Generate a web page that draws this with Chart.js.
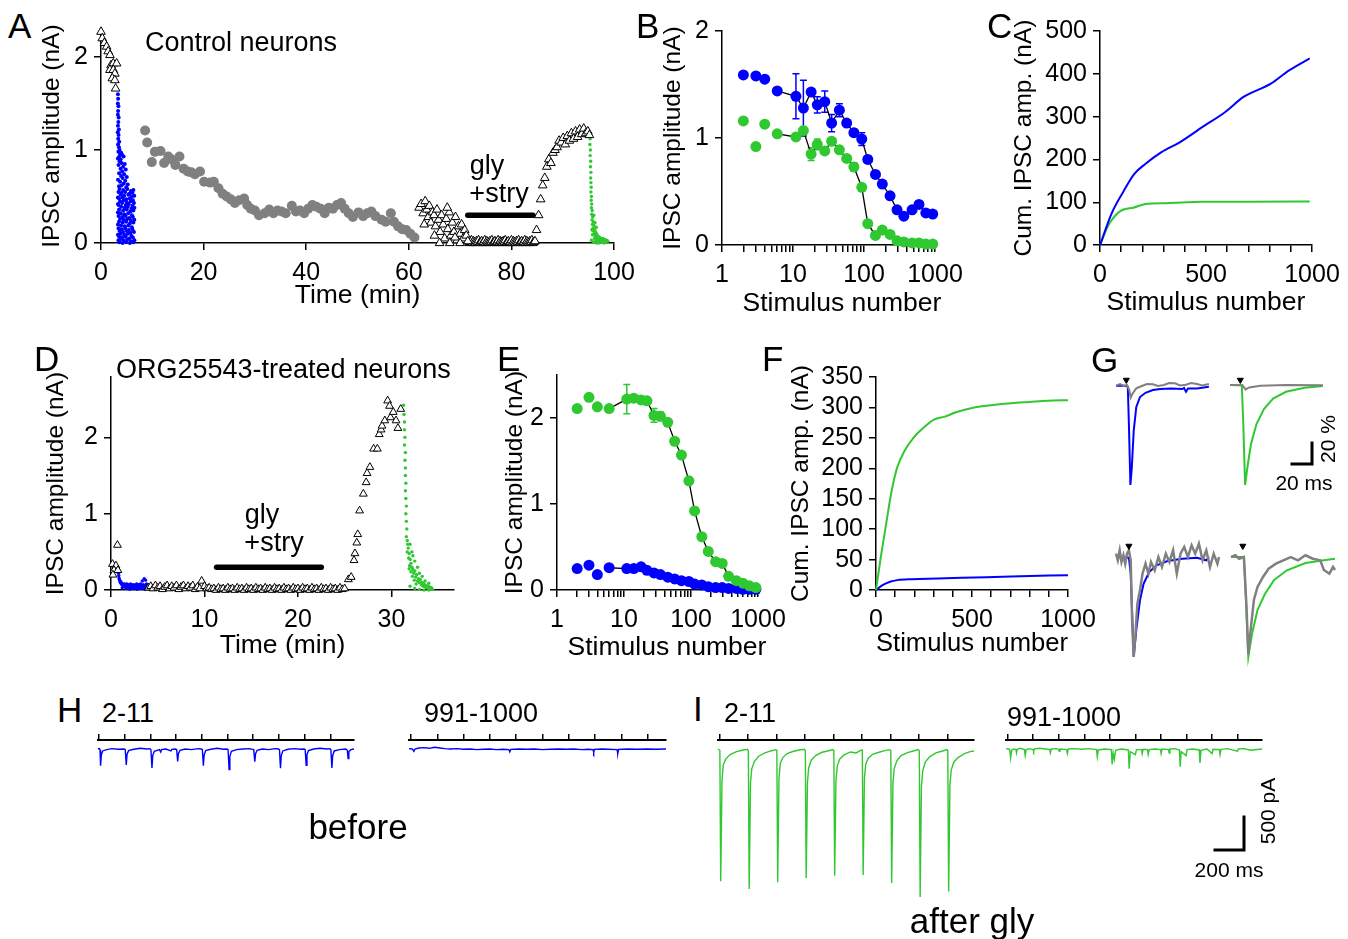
<!DOCTYPE html>
<html>
<head>
<meta charset="utf-8">
<script src="https://cdn.jsdelivr.net/npm/chart.js@4.4.1/dist/chart.umd.min.js"></script>
<style>
  html, body { margin: 0; padding: 0; background: #fff; }
  body { width: 1348px; height: 939px; position: relative; overflow: hidden; font-family: Arial, "Liberation Sans", sans-serif; }
  canvas { position: absolute; }
  .t { position: absolute; white-space: nowrap; color: #000; line-height: 1; }
</style>
</head>
<body>
<script>
// ---------- data ----------
const BLUE = '#0000ff', GREEN = '#30c830', GRAY = '#808080';

// A: control neurons, time course (min, nA)
const aTriStart = [[0.0,2.27],[0.25,2.2],[0.65,2.15],[1.1,2.11],[1.4,2.06],[1.75,2.02],[1.95,1.91],[2.4,1.93],[3.05,1.93],[1.75,1.86],[2.4,1.86],[2.7,1.82],[2.2,1.77],[2.7,1.75],[2.85,1.66]];
const aBlue = [[3.30,1.60],[3.34,1.55],[3.28,1.50],[3.40,1.47],[3.33,1.42],[3.29,1.38],[3.44,1.35],[3.38,1.30],[3.31,1.26],[3.48,1.22],[3.27,1.19],[3.43,1.16],[3.36,1.12],[3.55,1.09],[3.32,1.06],[3.50,1.03],[3.62,1.00],[3.39,0.98],[3.71,0.96],[3.56,0.93],[3.29,0.91],[3.83,0.90],
  [3.93,0.97],[4.12,0.95],[4.41,0.93],[3.61,0.88],[4.02,0.86],[4.63,0.85],[3.42,0.84],[4.31,0.82],[3.81,0.80],[4.82,0.79],[4.13,0.77],[3.52,0.75],[4.52,0.74],[3.91,0.72],[5.02,0.71],[4.22,0.70],[3.32,0.68],[4.72,0.67],[3.72,0.66],[4.43,0.64],[4.01,0.62],[5.21,0.63],[3.51,0.61],[4.92,0.60],
  [3.62,0.58],[4.33,0.57],[5.12,0.58],[5.83,0.56],[6.31,0.57],[3.41,0.55],[4.04,0.54],[4.71,0.55],[5.52,0.53],[6.12,0.54],
  [3.82,0.52],[4.51,0.51],[5.33,0.52],[6.03,0.50],[6.48,0.51],[3.30,0.49],[3.52,0.48],[4.21,0.49],[4.93,0.47],[5.62,0.48],[6.22,0.46],
  [3.71,0.45],[4.42,0.46],[5.04,0.44],[5.81,0.45],[6.42,0.43],[3.31,0.42],[3.43,0.41],[4.11,0.43],[4.83,0.41],[5.42,0.42],[6.13,0.40],
  [3.92,0.39],[4.61,0.38],[5.23,0.39],[5.92,0.37],[6.51,0.38],[3.53,0.36],[4.32,0.35],[5.01,0.36],[5.72,0.34],[6.32,0.35],[3.29,0.33],
  [3.81,0.32],[4.52,0.31],[5.31,0.32],[6.02,0.30],[3.42,0.29],[4.13,0.28],[4.81,0.29],[5.53,0.27],[6.21,0.28],
  [3.72,0.26],[4.43,0.25],[5.12,0.26],[5.83,0.24],[6.49,0.25],[3.51,0.23],[4.22,0.22],[4.91,0.23],[5.62,0.21],[6.32,0.22],[3.31,0.20],
  [3.91,0.19],[4.62,0.18],[5.33,0.19],[6.01,0.17],[3.41,0.16],[4.03,0.15],[4.72,0.16],[5.42,0.14],[6.12,0.15],
  [3.62,0.13],[4.31,0.12],[5.02,0.13],[5.71,0.11],[6.42,0.12],[3.81,0.10],[3.29,0.09],[4.52,0.09],[5.21,0.10],[5.92,0.08],
  [3.52,0.07],[4.12,0.06],[4.81,0.07],[5.51,0.05],[6.22,0.06],[3.71,0.04],[3.40,0.03],[4.41,0.03],[5.11,0.04],[5.82,0.02],[6.52,0.03],
  [3.61,0.01],[4.21,0.00],[4.92,0.01],[5.63,0.00],[6.31,0.01]];
const aGray = [[8.6,1.21],[9.0,1.08],[9.9,0.87],[10.5,0.98],[11.6,0.99],[12.3,0.86],[13.1,0.93],[13.7,0.90],[14.5,0.84],[15.3,0.93],[16.1,0.80],[16.9,0.77],[17.6,0.76],[18.3,0.74],[19.3,0.77],[20.1,0.66],[21.3,0.65],[22.0,0.66],[22.9,0.59],[23.7,0.53],[24.5,0.50],[25.3,0.47],[26.1,0.43],[26.9,0.46],[27.9,0.48],[28.5,0.41],[29.2,0.37],[30.0,0.35],[30.8,0.30],[31.9,0.32],[32.8,0.36],[33.6,0.32],[34.4,0.35],[35.2,0.34],[36.0,0.32],[37.2,0.40],[38.0,0.34],[38.8,0.35],[39.6,0.32],[40.4,0.37],[41.2,0.41],[42.0,0.39],[42.8,0.37],[43.6,0.32],[44.4,0.38],[45.2,0.37],[46.0,0.41],[46.8,0.43],[47.5,0.37],[48.3,0.32],[49.1,0.28],[50.2,0.33],[51.1,0.29],[51.9,0.32],[52.7,0.34],[53.5,0.29],[54.7,0.25],[55.5,0.23],[56.5,0.32],[57.1,0.23],[57.9,0.18],[58.7,0.15],[59.5,0.14],[60.3,0.10],[61.1,0.06]];
const aTriMid = [[62.0,0.38],[62.4,0.42],[62.8,0.32],[63.2,0.45],[63.5,0.36],[63.8,0.28],[64.0,0.4],[64.3,0.22],[64.6,0.33],[64.9,0.3],[65.2,0.18],[65.5,0.36],[65.8,0.25],[66.1,0.12],[66.4,0.3],[66.7,0.2],[67.0,0.05],[67.3,0.26],[67.6,0.15],[67.9,0.33],[68.2,0.08],[68.5,0.22],[68.8,0.12],[69.1,0.28],[69.4,0.03],[69.7,0.18],[70.0,0.1],[70.3,0.2],[70.6,0.05],[70.9,0.14],[71.2,0.08],[71.5,0.02],[66.0,0.0],[68.0,0.0],[70.0,0.0],[63.0,0.2],[65.0,0.08],[67.5,0.38],[69.0,0.06]];
const aTriGly = [[71.6,0.02],[71.8,0.0],[72.0,0.01],[72.2,0.03],[72.4,0.0],[72.6,0.02],[72.8,0.01],[73.0,0.0],[73.2,0.02],[73.4,0.01],[73.6,0.03],[73.8,0.0],[74.0,0.01],[74.2,0.02],[74.4,0.0],[74.6,0.01],[74.8,0.03],[75.0,0.0],[75.2,0.02],[75.4,0.01],[75.6,0.0],[75.8,0.02],[76.0,0.01],[76.2,0.03],[76.4,0.0],[76.6,0.01],[76.8,0.02],[77.0,0.0],[77.2,0.01],[77.4,0.03],[77.6,0.0],[77.8,0.02],[78.0,0.01],[78.2,0.0],[78.4,0.02],[78.6,0.01],[78.8,0.03],[79.0,0.0],[79.2,0.01],[79.4,0.02],[79.6,0.0],[79.8,0.01],[80.0,0.03],[80.2,0.0],[80.4,0.02],[80.6,0.01],[80.8,0.0],[81.0,0.02],[81.2,0.01],[81.4,0.03],[81.6,0.0],[81.8,0.01],[82.0,0.02],[82.2,0.0],[82.4,0.01],[82.6,0.03],[82.8,0.0],[83.0,0.02],[83.2,0.01],[83.4,0.0],[83.6,0.02],[83.8,0.01],[84.0,0.03],[84.2,0.0],[84.4,0.01],[84.6,0.02]];
const aTriWash = [[84.9,0.14],[85.3,0.3],[85.7,0.47],[86.1,0.62],[86.5,0.7],[86.9,0.82],[87.3,0.9],[87.7,0.86],[88.1,0.97],[88.5,1.0],[88.9,1.03],[89.3,1.1],[89.7,1.08],[90.1,1.13],[90.5,1.06],[90.9,1.15],[91.3,1.1],[91.7,1.18],[92.1,1.12],[92.5,1.2],[92.9,1.14],[93.3,1.22],[93.7,1.17],[94.1,1.23],[94.5,1.18],[94.9,1.2],[95.2,1.16]];
const aGreen = [[95.3,1.18],[95.35,1.12],[95.3,1.06],[95.4,1.0],[95.35,0.94],[95.45,0.88],[95.4,0.82],[95.5,0.76],[95.45,0.7],[95.5,0.65],[95.55,0.6],[95.5,0.55],[95.6,0.5],[95.55,0.46],[95.65,0.42],[95.6,0.38],[95.75,0.35],[95.65,0.31],[95.85,0.28],[95.7,0.25],[95.95,0.23],[95.8,0.2],[96.1,0.19],[95.9,0.16],[96.25,0.15],[96.0,0.13],[96.4,0.12],[96.15,0.1],[96.6,0.1],[96.3,0.08],[96.8,0.08],[96.5,0.06],[97.0,0.07],[96.7,0.05],[97.2,0.06],[96.9,0.04],[97.4,0.05],[97.1,0.03],[97.6,0.04],[97.3,0.02],[97.8,0.05],[97.5,0.02],[98.0,0.03],[97.7,0.01],[98.2,0.04],[97.9,0.01],[98.4,0.02],[98.1,0.0],[98.6,0.03],[98.3,0.01],[98.8,0.02],[95.6,0.03],[95.8,0.09],[96.0,0.01],[96.2,0.05],[96.4,0.02],[96.6,0.0],[96.8,0.02],[97.0,0.0],[95.7,0.14],[96.05,0.3],[96.3,0.22],[96.55,0.17]];
const aGlyBar = [71.5, 84.2], aGlyLevel = 0.3;
const aTicksX = [0, 20, 40, 60, 80, 100], aTicksY = [0, 1, 2];

// B / E: binned stimulus numbers and mean amplitudes (nA)
const stimBins = [2,3,4,6,11,14,18,22,28,35,45,57,72,93,113,145,181,233,292,364,476,595,743,929];
const bBlue  = [1.59,1.58,1.55,1.44,1.39,1.28,1.43,1.31,1.34,1.14,1.26,1.14,1.05,0.99,0.80,0.66,0.57,0.46,0.33,0.27,0.33,0.38,0.30,0.29];
const bBlueErr = [0.02,0.02,0.02,0.03,0.21,0.26,0.03,0.075,0.1,0.08,0.06,0.03,0.03,0.06,0.03,0.02,0.02,0.02,0.02,0.02,0.02,0.02,0.02,0.02];
const bGreen = [1.16,0.92,1.13,1.04,1.01,1.07,0.85,0.94,0.88,0.97,0.89,0.81,0.73,0.54,0.20,0.09,0.14,0.10,0.04,0.03,0.02,0.02,0.01,0.01];
const bGreenErr = [0.02,0.02,0.02,0.02,0.02,0.02,0.06,0.05,0.03,0.03,0.03,0.03,0.04,0.03,0.03,0.02,0.02,0.02,0.01,0.01,0.01,0.01,0.01,0.01];
const eBlue  = [0.25,0.29,0.18,0.26,0.25,0.25,0.27,0.23,0.20,0.18,0.15,0.13,0.11,0.10,0.07,0.06,0.04,0.03,0.03,0.02,0.02,0.01,0.01,0.01];
const eGreen = [2.11,2.24,2.13,2.11,2.22,2.23,2.21,2.20,2.03,2.02,1.95,1.73,1.57,1.27,0.92,0.62,0.45,0.33,0.31,0.16,0.11,0.08,0.05,0.03];
const eGreenErr = [0.03,0.03,0.03,0.03,0.17,0.04,0.03,0.03,0.08,0.05,0.03,0.03,0.03,0.03,0.03,0.02,0.02,0.02,0.02,0.01,0.01,0.01,0.01,0.01];
const logTicks = [1,2,3,4,5,6,7,8,9,10,20,30,40,50,60,70,80,90,100,200,300,400,500,600,700,800,900,1000];
const logLabels = [1, 10, 100, 1000];

// C / F: cumulative amplitude (stimulus number, nA)
const cBlue  = [[0,0],[54,73],[108,123],[161,166],[215,190],[290,217],[376,240],[484,276],[591,311],[677,346],[806,377],[892,408],[989,436]];
const cGreen = [[0,0],[43,49],[97,80],[161,88],[215,96],[312,98],[484,101],[699,101.5],[989,102]];
const fGreen = [[0,0],[25,54],[53,109],[82,164],[111,202],[149,229],[197,251],[245,266],[302,280],[359,285],[417,292],[512,300],[608,304],[704,307],[799,309],[895,311],[1000,312]];
const fBlue  = [[0,0],[34,8],[73,13.6],[111,16.4],[187,18],[321,19],[512,20.7],[704,22.4],[1000,24.5]];
const cumTicksX = [0,100,200,300,400,500,600,700,800,900,1000], cumLabelsX = [0, 500, 1000];
const cTicksY = [0,100,200,300,400,500];
const fTicksY = [0,50,100,150,200,250,300,350];

// D: ORG25543-treated neurons (min, nA)
const dTriStart = [[0.16,0.34],[0.53,0.32],[0.32,0.26],[0.74,0.26],[0.21,0.2],[0.69,0.59]];
const dBlue = [[0.80,0.22],[0.83,0.19],[0.86,0.16],[0.90,0.14],[0.95,0.12],[1.00,0.10],[1.05,0.11],[1.10,0.08],[1.15,0.09],[1.20,0.07],[1.25,0.08],[1.30,0.06],[1.35,0.07],[1.40,0.05],[1.45,0.08],[1.50,0.06],[1.55,0.04],[1.60,0.07],[1.65,0.05],[1.70,0.08],[1.75,0.03],[1.80,0.06],[1.85,0.04],[1.90,0.07],[1.95,0.05],[2.00,0.03],[2.05,0.06],[2.10,0.08],[2.15,0.04],[2.20,0.06],[2.25,0.03],[2.30,0.05],[2.35,0.07],[2.40,0.04],[2.45,0.06],[2.50,0.03],[2.55,0.05],[2.60,0.07],[2.65,0.04],[2.70,0.06],[2.75,0.08],[2.80,0.03],[2.85,0.05],[2.90,0.07],[2.95,0.04],[3.00,0.06],[3.05,0.03],[3.10,0.05],[3.15,0.08],[3.20,0.04],[3.25,0.06],[3.30,0.03],[3.35,0.12],[3.40,0.05],[3.45,0.07],[3.50,0.04],[3.55,0.15],[3.60,0.06],[3.65,0.03],[3.70,0.13],[3.75,0.05],[3.80,0.08],[3.85,0.04],[3.90,0.06],[3.95,0.03],[1.20,0.03],[1.60,0.02],[2.00,0.01],[2.40,0.02],[2.80,0.01],[3.20,0.02],[3.60,0.01]];
const dTriGly = [[4.0,0.03],[4.25,0.05],[4.5,0.02],[4.75,0.06],[5.0,0.03],[5.25,0.05],[5.5,0.01],[5.75,0.04],[6.0,0.06],[6.25,0.02],[6.5,0.05],[6.75,0.03],[7.0,0.06],[7.25,0.01],[7.5,0.04],[7.75,0.06],[8.0,0.02],[8.25,0.05],[8.5,0.03],[8.75,0.06],[9.0,0.01],[9.25,0.04],[9.5,0.02],[9.7,0.12],[10.0,0.05],[10.25,0.02],[10.5,0.03],[10.75,0.01],[11.0,0.02],[11.25,0.0],[11.5,0.03],[11.75,0.01],[12.0,0.02],[12.25,0.0],[12.5,0.03],[12.75,0.01],[13.0,0.02],[13.25,0.0],[13.5,0.03],[13.75,0.01],[14.0,0.02],[14.25,0.0],[14.5,0.03],[14.75,0.01],[15.0,0.02],[15.25,0.0],[15.5,0.03],[15.75,0.01],[16.0,0.02],[16.25,0.0],[16.5,0.03],[16.75,0.01],[17.0,0.02],[17.25,0.0],[17.5,0.03],[17.75,0.01],[18.0,0.02],[18.25,0.0],[18.5,0.03],[18.75,0.01],[19.0,0.02],[19.25,0.0],[19.5,0.03],[19.75,0.01],[20.0,0.02],[20.25,0.0],[20.5,0.03],[20.75,0.01],[21.0,0.02],[21.25,0.0],[21.5,0.03],[21.75,0.01],[22.0,0.02],[22.25,0.0],[22.5,0.03],[22.75,0.01],[23.0,0.02],[23.25,0.0],[23.5,0.03],[23.75,0.01],[24.0,0.02],[24.25,0.0],[24.5,0.03],[24.75,0.01],[25.0,0.02]];
const dTriWash = [[25.4,0.14],[25.7,0.17],[26.0,0.39],[26.1,0.48],[26.3,0.62],[26.4,0.73],[26.6,1.04],[27.0,1.26],[27.3,1.41],[27.4,1.53],[27.7,1.61],[28.1,1.85],[28.5,1.85],[28.7,2.04],[28.9,2.1],[29.0,2.15],[29.3,2.22],[29.6,2.48],[29.8,2.41],[29.9,2.26],[30.2,2.33],[30.5,2.22],[30.7,2.12],[31.0,2.37]];
const dGreen = [[31.3,2.42],[31.35,2.3],[31.4,2.2],[31.4,2.1],[31.45,2.0],[31.4,1.9],[31.5,1.8],[31.45,1.7],[31.5,1.6],[31.5,1.5],[31.55,1.4],[31.5,1.3],[31.55,1.2],[31.6,1.1],[31.55,1.0],[31.6,0.9],[31.65,0.8],[31.6,0.7],[31.7,0.65],[31.75,0.6],[31.8,0.55],[31.7,0.5],[31.9,0.48],[31.85,0.42],[32.0,0.4],[32.1,0.35],[31.95,0.32],[32.2,0.3],[32.3,0.27],[32.1,0.24],[32.4,0.22],[32.5,0.25],[32.25,0.18],[32.6,0.17],[32.7,0.2],[32.45,0.13],[32.8,0.12],[32.9,0.15],[33.0,0.1],[33.1,0.14],[32.65,0.08],[33.2,0.07],[33.3,0.1],[33.4,0.05],[33.5,0.08],[33.6,0.04],[33.7,0.06],[33.8,0.03],[33.9,0.05],[34.0,0.02],[34.1,0.04],[34.2,0.02],[34.3,0.03],[34.4,0.01],[32.0,0.6],[32.2,0.5],[31.9,0.28],[32.3,0.45],[32.5,0.38],[32.8,0.3],[33.0,0.22],[33.3,0.18],[33.6,0.12],[34.0,0.09],[32.0,0.05],[32.5,0.02],[33.0,0.01],[33.5,0.0],[34.0,0.0]];
const dGlyBar = [11.3, 22.5], dGlyLevel = 0.3;
const dTicksX = [0, 10, 20, 30], dTicksY = [0, 1, 2];

// G: normalised IPSC traces (ms, % of peak)
const gTLBlue = [[0,-0.7],[9.2,-0.7],[11.8,-1.7],[12.9,-39],[14.4,-100],[15.8,-83],[17.7,-46],[20.3,-22],[24,-12],[29.5,-7.8],[36.9,-5],[44.2,-4],[55.3,-3.4],[66.3,-4],[68,-3],[70,-6.8],[72,-3.4],[81,-3.4],[92.9,-1.7]];
const gTLGray = [[0,-0.7],[4,1],[8,-1],[11,0],[13.3,-5],[14.7,-12.5],[16.6,-8.5],[20.3,-3.4],[25.8,-1],[31,1],[36.9,0.7],[42,-1],[47.9,0],[53,2],[59,1.7],[64,-0.5],[70,0.3],[75,2],[81,1],[86,-0.5],[92.9,1]];
const gTRGreen = [[0,0],[11.8,-0.3],[13.3,-39],[15.1,-100],[17.3,-83],[21,-59],[26.5,-39],[33.9,-24],[43.1,-13.6],[56,-6.8],[74.5,-2.7],[92.9,-1]];
const gTRGray = [[0,0],[12.5,-0.3],[15.5,-4.4],[19.2,-2.4],[30.2,-0.7],[56,0],[92.9,-0.3]];
const gBLGray = [[0,3.3],[1.8,-3.3],[3.7,6.7],[5.5,-5],[7.4,1.7],[9.2,-6.7],[11,3.3],[12.9,6.7],[14.7,-3.3],[16.2,-66.7],[17.7,-100],[19.5,-76.7],[21.4,-46.7],[24,-33],[26.5,-16.7],[29.5,-6.7],[32.4,-16.7],[35,-5],[38.7,-13.3],[42.4,0],[46,-10],[49.8,3.3],[53.4,-5],[57.1,6.7],[60.8,-16.7],[64.5,3.3],[68.2,10],[71.9,0],[75.6,11.7],[79.2,3.3],[82.9,13.3],[86.6,-3.3],[90.3,6.7],[94,-10],[97.7,3.3],[101.4,-6.7],[103,0]];
const gBLBlue = [[0,0],[12.9,-0.7],[14.7,-16.7],[17.7,-100],[20.3,-73],[24,-43],[27.6,-26.7],[33.2,-15],[40.5,-8.3],[51.6,-4],[66.3,-1.7],[81,-0.7],[90.3,-3.3],[92.9,0]];
const gBRGreen = [[0,0],[12.9,0],[14.7,-37],[17.3,-100],[21,-77],[26.5,-53],[33.9,-37],[43.1,-23],[56,-13.3],[74.5,-6],[92.9,-3.3],[104,-1.7]];
const gBRGray = [[0,0],[4.4,1.7],[8.1,-1.7],[12.9,0],[15.5,-50],[17.3,-97],[19.2,-77],[22.9,-43],[26.5,-30],[32,-20],[37.6,-11.7],[45,-6.7],[52.3,-3.3],[59.7,0],[67,-3.3],[74.5,1.7],[81.8,-1.7],[89.2,-3.3],[92.9,-13],[98.4,-16.7],[102,-10],[104,-13]];
const gStim = [[10.3,5],[10.3,5],[12.9,11],[11.8,11]];   // TL, TR, BL, BR marker (ms, %)
const gScale = [20, 20];   // ms, %

// H / I: raw traces (ms, pA)
const stimTimes10 = [0,200,400,600,800,1000,1200,1400,1600,1800];
const stimTimes9 = [0,200,400,600,800,1000,1200,1400,1600];
const hLeft = [[-8,0],[4,5],[8,-20],[12,-252],[18,-90],[28,-30],[60,-10],[100,5],[150,-5],[196,0],
  [204,-10],[212,-242],[218,-80],[230,-25],[270,-5],[320,10],[370,0],[396,5],
  [404,-15],[412,-288],[418,-100],[430,-35],[470,-10],[480,-45],[486,-10],[520,0],[560,-30],[566,-5],[596,0],
  [604,-10],[612,-187],[618,-70],[630,-20],[670,0],[720,-10],[770,5],[796,0],
  [804,-10],[812,-252],[818,-90],[830,-25],[870,-5],[920,10],[970,-5],[996,0],
  [1004,-10],[1012,-313],[1018,-110],[1030,-35],[1070,-10],[1120,0],[1170,5],[1196,-5],
  [1204,-10],[1212,-192],[1218,-70],[1230,-20],[1270,0],[1320,-10],[1370,5],[1396,0],
  [1404,-10],[1412,-293],[1418,-100],[1430,-30],[1470,-5],[1520,5],[1570,-5],[1596,0],
  [1604,-10],[1612,-247],[1618,-85],[1630,-25],[1670,0],[1720,10],[1770,0],[1796,5],
  [1804,-10],[1812,-288],[1818,-100],[1830,-30],[1870,-10],[1920,0],[1932,-20],[1938,-146],[1944,-40],[1960,-10],[1984,0]];
const hRight = [[-15,5],[10,0],[22,-35],[30,0],[60,15],[100,20],[140,10],[180,25],[220,15],[260,5],[300,0],[350,5],[400,-5],[450,0],[500,-10],[550,-5],[600,0],[650,-10],[700,-5],[745,-10],[752,-45],[760,-5],[820,0],[880,-5],[940,0],[1000,-10],[1060,-5],[1120,0],[1180,-5],[1240,0],[1300,-10],[1350,-5],[1385,-10],[1390,-50],[1396,-5],[1450,0],[1500,-5],[1568,-10],[1573,-70],[1580,-5],[1650,0],[1720,-5],[1800,0],[1860,-5],[1940,0]];
const iLeft = [[-10,0],[3,-20],[9,-2005],[18,-470],[27,-240],[45,-150],[75,-85],[120,-40],[160,-20],[196,-5],
  [203,-25],[209,-2121],[218,-520],[227,-300],[245,-190],[275,-110],[320,-60],[360,-30],[396,-10],
  [403,-20],[409,-2020],[418,-450],[427,-220],[445,-130],[475,-70],[520,-35],[560,-15],[596,-5],
  [603,-30],[609,-1954],[618,-500],[627,-280],[645,-170],[675,-100],[720,-50],[760,-30],[796,-10],
  [803,-25],[809,-1919],[818,-480],[827,-260],[845,-150],[875,-90],[920,-45],[960,-60],[996,-15],
  [1003,-20],[1009,-1909],[1018,-430],[1027,-230],[1045,-140],[1075,-80],[1120,-50],[1160,-25],[1196,-10],
  [1203,-25],[1209,-2030],[1218,-520],[1227,-300],[1245,-180],[1275,-100],[1320,-55],[1360,-30],[1396,-10],
  [1403,-30],[1409,-2242],[1418,-560],[1427,-330],[1445,-200],[1475,-120],[1520,-60],[1560,-35],[1596,-10],
  [1603,-25],[1609,-2161],[1618,-540],[1627,-320],[1645,-200],[1675,-130],[1720,-70],[1760,-40],[1787,-30]];
const iRight = [[-12,5],[10,0],[18,-20],[24,-136],[32,-20],[50,0],[66,-10],[70,-60],[76,-5],[100,10],[132,-10],[138,-100],[146,-10],[170,5],[200,-10],[204,-35],[210,0],[250,10],[300,0],[330,-10],[335,-60],[342,0],[380,5],[400,-10],[404,-35],[410,0],[462,-10],[468,-70],[475,0],[520,5],[580,-5],[640,5],[696,-10],[702,-120],[710,-15],[760,0],[812,-10],[818,-235],[826,-60],[835,-160],[845,-20],[890,0],[945,-15],[951,-300],[960,-40],[1000,-85],[1008,-10],[1048,-10],[1053,-70],[1060,-5],[1095,-10],[1100,-85],[1108,-10],[1150,0],[1196,-10],[1201,-70],[1208,0],[1259,-10],[1264,-60],[1270,0],[1310,5],[1344,-15],[1350,-270],[1358,-40],[1397,-100],[1404,-10],[1450,0],[1499,-15],[1505,-210],[1513,-20],[1560,0],[1600,-70],[1607,-5],[1657,-10],[1662,-85],[1670,-5],[1720,5],[1798,-35],[1805,0],[1850,5],[1900,-20],[1990,0]];
const iScale = [200, 500];   // ms, pA

// ---------- helpers ----------
Chart.defaults.font.family = 'Arial, "Liberation Sans", sans-serif';
Chart.defaults.color = '#000';
const FONT_TICK = 25, FONT_XTITLE = 26.5, FONT_YTITLE = 24.5;

const pts = arr => arr.map(p => ({ x: p[0], y: p[1] }));
const zip = (xs, ys) => xs.map((x, i) => ({ x: x, y: ys[i] }));

function addCanvas(l, t, w, h) {
  const c = document.createElement('canvas');
  c.width = w; c.height = h;
  c.style.left = l + 'px'; c.style.top = t + 'px';
  c.style.width = w + 'px'; c.style.height = h + 'px';
  document.body.appendChild(c);
  return c;
}

function txt(s, x, base, size, align, rotate) {
  const d = document.createElement('div');
  d.className = 't';
  d.textContent = s;
  d.style.fontSize = size + 'px';
  if (rotate) {
    d.style.left = x + 'px'; d.style.top = base + 'px';
    d.style.transform = 'translate(-50%,-50%) rotate(-90deg)';
  } else {
    d.style.left = x + 'px';
    d.style.top = (base - 0.8465 * size) + 'px';
    if (align === 'center') d.style.transform = 'translateX(-50%)';
  }
  document.body.appendChild(d);
}

const errorBars = {
  id: 'errorBars',
  beforeDatasetsDraw(chart) {
    const { ctx, scales } = chart;
    chart.data.datasets.forEach(ds => {
      if (!ds.errors) return;
      ctx.save();
      ctx.strokeStyle = ds.pointBackgroundColor;
      ctx.lineWidth = 1.5;
      ds.data.forEach((p, i) => {
        const e = ds.errors[i];
        if (!e) return;
        const px = scales.x.getPixelForValue(p.x);
        const y1 = scales.y.getPixelForValue(p.y + e), y2 = scales.y.getPixelForValue(p.y - e);
        ctx.beginPath();
        ctx.moveTo(px, y1); ctx.lineTo(px, y2);
        ctx.moveTo(px - 3.5, y1); ctx.lineTo(px + 3.5, y1);
        ctx.moveTo(px - 3.5, y2); ctx.lineTo(px + 3.5, y2);
        ctx.stroke();
      });
      ctx.restore();
    });
  }
};

function axis(o) {
  return {
    type: o.type || 'linear',
    min: o.min, max: o.max,
    offset: false,
    afterBuildTicks: s => { s.ticks = o.ticks.map(v => ({ value: v })); },
    afterFit: s => {
      if (o.horizontal) s.height = o.size; else s.width = o.size;
      s.paddingLeft = s.paddingRight = s.paddingTop = s.paddingBottom = 0;
    },
    ticks: {
      autoSkip: false, maxRotation: 0, minRotation: 0,
      padding: o.horizontal ? 8 : 6,
      font: { size: FONT_TICK },
      callback: v => (o.labels.includes(v) ? String(v) : '')
    },
    grid: { display: true, drawOnChartArea: false, drawTicks: true, tickLength: 7, color: '#000', lineWidth: 1.5 },
    border: { display: true, color: '#000', width: 1.5 },
    title: { display: !!o.title, text: o.title || '', padding: 0, font: { size: o.horizontal ? FONT_XTITLE : FONT_YTITLE } }
  };
}

// rect = plot area [left, top, right, bottom] in page pixels
function panel(rect, yTitleX, xTitleY, xo, yo, datasets) {
  const [l, t, r, b] = rect;
  const yw = l - (yTitleX - FONT_YTITLE * 0.6);
  const xh = xTitleY + FONT_XTITLE * 0.6 - b;
  const pad = { left: 4, right: 36, top: 22, bottom: 4 };
  const cl = Math.round(l - yw - pad.left), ct = t - pad.top;
  pad.left = l - yw - cl;
  const c = addCanvas(cl, ct, r - cl + pad.right, Math.round(b + xh + pad.bottom - ct));
  xo.size = xh; xo.horizontal = true; yo.size = yw;
  return new Chart(c, {
    type: 'scatter',
    data: { datasets: datasets },
    options: {
      responsive: false, animation: false, events: [],
      layout: { padding: pad },
      plugins: { legend: { display: false }, tooltip: { enabled: false } },
      scales: { x: axis(xo), y: axis(yo) }
    },
    plugins: [errorBars]
  });
}

// chart without visible axes; rect is the plot area
function plain(rect, xr, yr, datasets) {
  const [l, t, r, b] = rect, m = 5;
  const c = addCanvas(l - m, t - m, r - l + 2 * m, b - t + 2 * m);
  return new Chart(c, {
    type: 'scatter',
    data: { datasets: datasets },
    options: {
      responsive: false, animation: false, events: [],
      layout: { padding: m },
      plugins: { legend: { display: false }, tooltip: { enabled: false } },
      scales: {
        x: { type: 'linear', display: false, min: xr[0], max: xr[1] },
        y: { type: 'linear', display: false, min: yr[0], max: yr[1] }
      }
    }
  });
}

// raw current trace with the stimulus tick bar on top
function trace(rect, xr, yr, stim, datasets) {
  const [l, t, r, b] = rect;
  const pad = { left: 3, right: 3, top: 2, bottom: 3 }, th = 8;
  const c = addCanvas(l - pad.left, t - th - pad.top, r - l + pad.left + pad.right, b - t + th + pad.top + pad.bottom);
  return new Chart(c, {
    type: 'scatter',
    data: { datasets: datasets },
    options: {
      responsive: false, animation: false, events: [],
      layout: { padding: pad },
      plugins: { legend: { display: false }, tooltip: { enabled: false } },
      scales: {
        x: {
          type: 'linear', position: 'top', min: xr[0], max: xr[1], offset: false,
          afterBuildTicks: s => { s.ticks = stim.map(v => ({ value: v })); },
          afterFit: s => { s.height = th; s.paddingLeft = s.paddingRight = 0; },
          ticks: { display: false },
          grid: { display: true, drawOnChartArea: false, drawTicks: true, tickLength: 6, color: '#000', lineWidth: 1.5 },
          border: { display: true, color: '#000', width: 2 }
        },
        y: { type: 'linear', display: false, min: yr[0], max: yr[1] }
      }
    }
  });
}

function dots(data, color, r, extra) {
  return Object.assign({ data: data, pointRadius: r, pointBackgroundColor: color, pointBorderColor: color,
    pointBorderWidth: 0, showLine: false, clip: false }, extra || {});
}
function tris(data, r) {
  return { data: data, pointStyle: 'triangle', pointRadius: r, pointBackgroundColor: '#fff',
    pointBorderColor: '#000', pointBorderWidth: 1, showLine: false, clip: false };
}
function line(data, color, w, extra) {
  return Object.assign({ data: data, showLine: true, borderColor: color, borderWidth: w, pointRadius: 0,
    tension: 0, clip: false, fill: false }, extra || {});
}
function bar(range, level) {
  return line([{ x: range[0], y: level }, { x: range[1], y: level }], '#000', 5.5, { borderCapStyle: 'round' });
}
function stimMark(p) {
  return { data: [{ x: p[0], y: p[1] }], pointStyle: 'triangle', rotation: 180, pointRadius: 3.5,
    pointBackgroundColor: '#000', pointBorderColor: '#000', showLine: false, clip: false };
}
function scaleBar(v) {
  return line([{ x: 0, y: 0 }, { x: v[0], y: 0 }, { x: v[0], y: v[1] }], '#000', 3,
    { borderCapStyle: 'square', borderJoinStyle: 'miter' });
}

// ---------- A ----------
panel([101, 29, 614, 243], 52, 296,
  { min: 0, max: 100, ticks: aTicksX, labels: aTicksX, title: 'Time (min)' },
  { min: 0, max: 2.3, ticks: aTicksY, labels: aTicksY, title: 'IPSC amplitude (nA)' },
  [bar(aGlyBar, aGlyLevel),
   tris(pts(aTriStart), 5), tris(pts(aTriMid), 5), tris(pts(aTriGly), 5), tris(pts(aTriWash), 5),
   dots(pts(aBlue), BLUE, 2), dots(pts(aGreen), GREEN, 1.7), dots(pts(aGray), GRAY, 5)]);

// ---------- B ---------- (x title placed as page text: it sits right of the axis centre)
panel([722, 31, 935, 245], 673, 302,
  { type: 'logarithmic', min: 1, max: 1000, ticks: logTicks, labels: logLabels },
  { min: 0, max: 2, ticks: [0, 1, 2], labels: [0, 1, 2], title: 'IPSC amplitude (nA)' },
  [dots(zip(stimBins, bBlue), BLUE, 5.5, { errors: bBlueErr }),
   dots(zip(stimBins, bGreen), GREEN, 5.5, { errors: bGreenErr }),
   line(zip(stimBins.slice(3), bBlue.slice(3)), '#000', 1.3),
   line(zip(stimBins.slice(3, 19), bGreen.slice(3, 19)), '#000', 1.3)]);

// ---------- C ----------
panel([1100, 31, 1312, 245], 1024, 303,
  { min: 0, max: 1000, ticks: cumTicksX, labels: cumLabelsX, title: 'Stimulus number' },
  { min: 0, max: 500, ticks: cTicksY, labels: cTicksY, title: 'Cum. IPSC amp. (nA)' },
  [line(pts(cBlue), BLUE, 2, { cubicInterpolationMode: 'monotone' }),
   line(pts(cGreen), GREEN, 2, { cubicInterpolationMode: 'monotone' })]);

// ---------- D ----------
panel([111, 377, 454, 590], 56, 646,
  { min: 0, max: 36.7, ticks: dTicksX, labels: dTicksX, title: 'Time (min)' },
  { min: 0, max: 2.79, ticks: dTicksY, labels: dTicksY, title: 'IPSC amplitude (nA)' },
  [bar(dGlyBar, dGlyLevel),
   tris(pts(dTriStart), 4.5), tris(pts(dTriGly), 4.5), tris(pts(dTriWash), 4.5),
   dots(pts(dBlue), BLUE, 1.7), dots(pts(dGreen), GREEN, 1.7)]);

// ---------- E ----------
panel([557, 375, 758, 590], 515, 646,
  { type: 'logarithmic', min: 1, max: 1000, ticks: logTicks, labels: logLabels },
  { min: 0, max: 2.5, ticks: [0, 1, 2], labels: [0, 1, 2], title: 'IPSC amplitude (nA)' },
  [dots(zip(stimBins, eGreen), GREEN, 5.5, { errors: eGreenErr }),
   dots(zip(stimBins, eBlue), BLUE, 5.5),
   line(zip(stimBins.slice(3), eGreen.slice(3)), '#000', 1.3),
   line(zip(stimBins.slice(3, 10), eBlue.slice(3, 10)), '#000', 1.3)]);

// ---------- F ----------
panel([876, 377, 1068, 590], 801, 644,
  { min: 0, max: 1000, ticks: cumTicksX, labels: cumLabelsX, title: 'Stimulus number' },
  { min: 0, max: 350, ticks: fTicksY, labels: fTicksY, title: 'Cum. IPSC amp. (nA)' },
  [line(pts(fGreen), GREEN, 2, { cubicInterpolationMode: 'monotone' }),
   line(pts(fBlue), BLUE, 2, { cubicInterpolationMode: 'monotone' })]);

// ---------- G ----------
const gX = [0, 104], gY = [-105, 15];
plain([1116, 370, 1220, 490], gX, gY, [stimMark(gStim[0]), line(pts(gTLGray), GRAY, 2), line(pts(gTLBlue), BLUE, 2)]);
plain([1230, 370, 1334, 490], gX, gY, [stimMark(gStim[1]), line(pts(gTRGray), GRAY, 2), line(pts(gTRGreen), GREEN, 2)]);
plain([1116, 542, 1220, 662], gX, gY, [stimMark(gStim[2]), line(pts(gBLGray), GRAY, 2.5), line(pts(gBLBlue), BLUE, 2)]);
plain([1231, 542, 1335, 662], gX, gY, [stimMark(gStim[3]), line(pts(gBRGray), GRAY, 2.5), line(pts(gBRGreen), GREEN, 2)]);
plain([1292, 443, 1312, 464], [0, gScale[0]], [0, gScale[1]], [scaleBar(gScale)]);

// ---------- H / I ----------
const trY = [-2288, 136];
trace([98, 740, 354, 900], [-8, 1984], trY, stimTimes10, [line(pts(hLeft), BLUE, 1.4)]);
trace([409, 740, 666, 900], [-15, 1940], trY, stimTimes10, [line(pts(hRight), BLUE, 1.4)]);
trace([718, 740, 974, 900], [-10, 1787], trY, stimTimes9, [line(pts(iLeft), GREEN, 1.4)]);
trace([1006, 740, 1262, 900], [-12, 1990], trY, stimTimes10, [line(pts(iRight), GREEN, 1.4)]);
plain([1215, 817, 1244, 850], [0, iScale[0]], [0, iScale[1]], [scaleBar(iScale)]);

// ---------- text ----------
[['A', 8, 38], ['B', 636, 38], ['C', 987, 38], ['D', 34, 371], ['E', 497, 371], ['F', 762, 371],
 ['G', 1091, 372], ['H', 57, 722], ['I', 693, 721]].forEach(p => txt(p[0], p[1], p[2], 35));
txt('Stimulus number', 842, 311.5, FONT_XTITLE, 'center');
txt('Stimulus number', 667, 655.5, FONT_XTITLE, 'center');
txt('Control neurons', 145, 52, 27);
txt('gly', 487, 175, 27, 'center');
txt('+stry', 499, 203, 27, 'center');
txt('ORG25543-treated neurons', 116, 379, 27);
txt('gly', 262, 524, 27, 'center');
txt('+stry', 274, 552, 27, 'center');
txt('20 %', 1327, 439, 21, null, true);
txt('20 ms', 1304, 490, 21, 'center');
txt('2-11', 102, 723, 27);
txt('991-1000', 424, 723, 27);
txt('2-11', 724, 723, 27);
txt('991-1000', 1007, 727, 27);
txt('500 pA', 1267, 811, 21, null, true);
txt('200 ms', 1229, 877, 21, 'center');
txt('before', 358, 839, 35, 'center');
txt('after gly', 972, 933, 35, 'center');
</script>
</body>
</html>
